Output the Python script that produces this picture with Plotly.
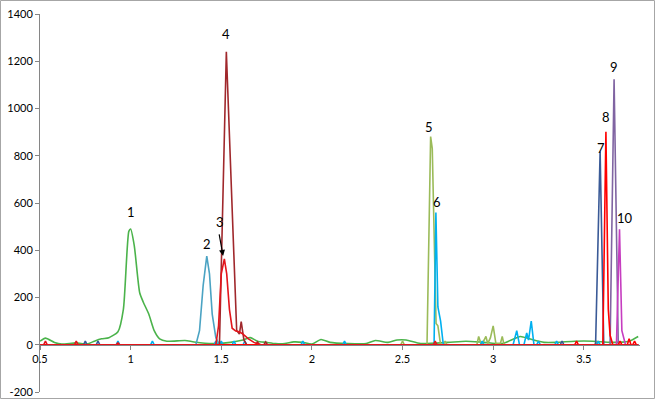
import plotly.graph_objects as go

# ---- data ----
x1 = [0.5, 0.53, 0.58, 0.62, 0.7, 0.76, 0.8, 0.84, 0.88, 0.93, 0.96, 0.99, 1.0, 1.02, 1.05, 1.07, 1.1, 1.13, 1.16, 1.2,
      1.3, 1.35, 1.45, 1.55, 1.62, 1.66, 1.7, 1.75, 1.8, 1.85, 1.9, 1.95, 2.0, 2.05, 2.1, 2.2, 2.3, 2.35, 2.42, 2.47,
      2.52, 2.6, 2.75, 2.85, 2.95, 3.05, 3.15, 3.2, 3.28, 3.35, 3.45, 3.55, 3.65, 3.75, 3.8]
y1 = [15, 28, 10, 3, 8, 3, 15, 25, 30, 55, 150, 480, 490, 420, 220, 180, 130, 60, 25, 15,
      18, 12, 5, 10, 20, 30, 15, 10, 5, 5, 12, 10, 3, 22, 10, 5, 5, 18, 10, 20,
      20, 5, 10, 15, 10, 5, 35, 25, 10, 10, 15, 15, 10, 15, 35]

x2 = [0.5, 1.36, 1.38, 1.40, 1.42, 1.435, 1.45, 1.47, 1.49, 3.8]
y2 = [0, 0, 60, 250, 375, 300, 130, 30, 0, 0]

x3 = [0.5, 0.52, 0.53, 0.54, 0.69, 0.70, 0.71, 0.92, 0.93, 0.94, 1.47, 1.485, 1.50, 1.517, 1.53, 1.545, 1.56, 1.58,
      1.6, 1.62, 1.65, 1.68, 1.72, 2.67, 2.68, 2.69, 3.8]
y3 = [0, 0, 15, 0, 0, 15, 0, 0, 8, 0, 0, 80, 300, 363, 300, 150, 70, 58,
      55, 45, 25, 10, 0, 0, 15, 0, 0]

x4 = [0.5, 1.49, 1.528, 1.56, 1.585, 1.60, 1.61, 1.625, 1.64, 1.69, 1.70, 1.71, 1.735, 1.745, 1.755, 3.8]
y4 = [0, 0, 1240, 600, 60, 45, 98, 20, 0, 0, 12, 0, 0, 12, 0, 0]

x5 = [0.5, 2.49, 2.50, 2.51, 2.635, 2.655, 2.664, 2.685, 2.695, 2.71, 2.725, 2.735, 2.745, 2.91, 2.92, 2.935, 2.95,
      2.96, 2.97, 2.985, 3.0, 3.015, 3.04, 3.05, 3.06, 3.56, 3.57, 3.58, 3.8]
y5 = [0, 0, 15, 0, 0, 881, 830, 90, 80, 0, 0, 15, 0, 0, 35, 0, 20,
      35, 5, 30, 80, 5, 5, 35, 0, 0, 15, 0, 0]

x6 = [0.5, 0.92, 0.93, 0.94, 1.11, 1.12, 1.13, 1.46, 1.47, 1.48, 1.49, 1.50, 1.51, 1.56, 1.57, 1.58, 1.62, 1.63, 1.64,
      1.94, 1.95, 1.96, 2.17, 2.18, 2.19, 2.674, 2.684, 2.695, 2.71, 2.725, 2.93, 2.94, 2.95,
      3.11, 3.13, 3.145, 3.17, 3.185, 3.195, 3.21, 3.225, 3.24, 3.25, 3.26, 3.34, 3.35, 3.36, 3.57, 3.58, 3.59, 3.8]
y6 = [0, 0, 15, 0, 0, 15, 0, 0, 15, 0, 0, 15, 0, 0, 15, 0, 0, 15, 0,
      0, 15, 0, 0, 15, 0, 0, 560, 160, 100, 0, 0, 15, 0,
      0, 60, 0, 0, 50, 20, 100, 0, 0, 15, 0, 0, 15, 0, 0, 15, 0, 0]

x7 = [0.5, 0.74, 0.75, 0.76, 0.81, 0.82, 0.83, 3.37, 3.38, 3.39, 3.565, 3.59, 3.61, 3.8]
y7 = [0, 0, 15, 0, 0, 15, 0, 0, 15, 0, 0, 818, 0, 0]

x8 = [0.5, 3.45, 3.46, 3.47, 3.605, 3.622, 3.635, 3.645, 3.66, 3.69, 3.70, 3.71, 3.74, 3.75, 3.76, 3.77, 3.78, 3.79, 3.8]
y8 = [0, 0, 15, 0, 0, 902, 150, 40, 0, 0, 15, 0, 0, 25, 0, 0, 15, 0, 0]

x9 = [0.5, 3.645, 3.667, 3.69, 3.8]
y9 = [0, 0, 1124, 0, 0]

x10 = [0.5, 3.68, 3.697, 3.71, 3.73, 3.8]
y10 = [0, 0, 489, 60, 0, 0]

peak_labels = ["1", "2", "3", "4", "5", "6", "7", "8", "9", "10"]
label_x = [1.0, 1.42, 1.494, 1.528, 2.647, 2.69, 3.596, 3.62, 3.664, 3.727]
label_y = [560, 428, 520, 1315, 922, 605, 833, 964, 1176, 537]

y_ticks = [-200, 0, 200, 400, 600, 800, 1000, 1200, 1400]
y_tick_text = ["-200", "0", "200", "400", "600", "800", "1000", "1200", "1400"]
x_ticks = [0.5, 1, 1.5, 2, 2.5, 3, 3.5]
x_tick_text = ["0.5", "1", "1.5", "2", "2.5", "3", "3.5"]

series = [
    (x1, y1, "#4BB34B", "spline"),
    (x2, y2, "#4BA3C3", "linear"),
    (x5, y5, "#9BBB59", "linear"),
    (x6, y6, "#00B0F0", "linear"),
    (x7, y7, "#3A5A97", "linear"),
    (x9, y9, "#8064A2", "linear"),
    (x10, y10, "#C63DC0", "linear"),
    (x4, y4, "#A0282C", "linear"),
    (x8, y8, "#FF0000", "linear"),
    (x3, y3, "#E3151B", "linear"),
]

fig = go.Figure()
for xs, ys, col, shp in series:
    fig.add_trace(go.Scatter(x=xs, y=ys, mode="lines",
                             line=dict(color=col, width=1.6, shape=shp, smoothing=0.6),
                             showlegend=False, hoverinfo="skip"))

for t, lx, ly in zip(peak_labels, label_x, label_y):
    fig.add_annotation(x=lx, y=ly, text=t, showarrow=False,
                       font=dict(size=13, color="#000000"))

# arrow for peak 3
fig.add_annotation(x=1.51, y=376, ax=1.487, ay=474, axref="x", ayref="y",
                   xref="x", yref="y", text="", showarrow=True,
                   arrowhead=2, arrowsize=1, arrowwidth=1.2, arrowcolor="#000000")

W, H = 655, 399
L, R, T, B = 40, 15, 14, 7
pw, ph = W - L - R, H - T - B

fig.add_shape(type="rect", xref="paper", yref="paper",
              x0=(-L + 0.5) / pw, x1=(W - L - 0.5) / pw,
              y0=(-B + 0.5) / ph, y1=(ph + T - 0.5) / ph,
              line=dict(color="#A6A6A6", width=1), fillcolor="rgba(0,0,0,0)", layer="below")

fig.update_layout(
    width=W, height=H,
    margin=dict(l=L, r=R, t=T, b=B, autoexpand=False),
    paper_bgcolor="white", plot_bgcolor="white",
    font=dict(family="Lato, Open Sans, sans-serif", size=11, color="#000000"),
    xaxis=dict(range=[0.5, 3.81], tickvals=x_ticks, ticktext=x_tick_text, automargin=False,
               showgrid=False, zeroline=False, showline=True, linecolor="#868686", linewidth=1,
               ticks="outside", ticklen=4, tickcolor="#868686",
               anchor="free", position=200 / 1600, tickfont=dict(size=11)),
    yaxis=dict(range=[-200, 1400], tickvals=y_ticks, ticktext=y_tick_text, automargin=False,
               showgrid=False, zeroline=False, showline=True, linecolor="#868686", linewidth=1,
               ticks="outside", ticklen=4, tickcolor="#868686", tickfont=dict(size=11)),
)

fig.write_html("out.html", config={"displayModeBar": False, "staticPlot": True},
               post_script="document.body.style.margin='0';document.body.style.overflow='hidden';")
